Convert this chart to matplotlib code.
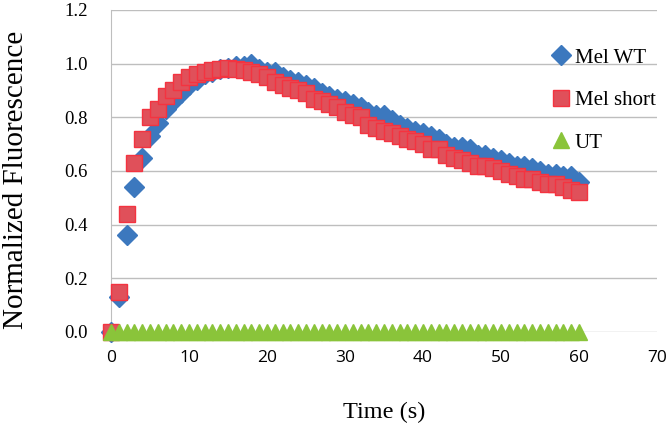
import numpy as np
import matplotlib.pyplot as plt

time_s = list(range(0, 61))

mel_wt = [0.00, 0.13, 0.36, 0.54, 0.65, 0.73, 0.78, 0.83, 0.86, 0.89,
          0.92, 0.94, 0.96, 0.97, 0.98, 0.985, 0.99, 0.99, 1.00, 0.98,
          0.97, 0.97, 0.95, 0.94, 0.93, 0.92, 0.91, 0.89, 0.88, 0.87,
          0.86, 0.85, 0.84, 0.82, 0.81, 0.81, 0.79, 0.77, 0.76, 0.75,
          0.74, 0.73, 0.72, 0.70, 0.69, 0.69, 0.68, 0.66, 0.66, 0.65,
          0.64, 0.63, 0.62, 0.62, 0.61, 0.60, 0.59, 0.59, 0.58, 0.58,
          0.56]

mel_short = [0.00, 0.15, 0.44, 0.63, 0.72, 0.80, 0.83, 0.88, 0.90, 0.93,
             0.95, 0.96, 0.97, 0.975, 0.98, 0.985, 0.98, 0.975, 0.97, 0.96,
             0.95, 0.93, 0.92, 0.91, 0.90, 0.89, 0.87, 0.86, 0.85, 0.84,
             0.82, 0.81, 0.80, 0.77, 0.76, 0.75, 0.74, 0.73, 0.72, 0.71,
             0.70, 0.68, 0.68, 0.66, 0.65, 0.64, 0.63, 0.62, 0.62, 0.61,
             0.60, 0.59, 0.58, 0.57, 0.57, 0.56, 0.55, 0.55, 0.54, 0.53,
             0.52]

ut = [0.0] * 61

xticks = [0, 10, 20, 30, 40, 50, 60, 70]
yticks = [0.0, 0.2, 0.4, 0.6, 0.8, 1.0, 1.2]

fig = plt.figure(figsize=(6.66, 4.32), dpi=100)
ax = fig.add_axes([0.1667, 0.2315, 0.8198, 0.7455])

ax.plot(time_s, mel_wt, linestyle="none", marker="D", markersize=10.5,
        color="#3C78BE", markeredgecolor="#3C78BE", label="Mel WT", clip_on=False, zorder=3)
ax.plot(time_s, mel_short, linestyle="none", marker="s", markersize=12,
        color="#E0505A", markeredgecolor="#F43340", markeredgewidth=1, label="Mel short",
        clip_on=False, zorder=4)
ax.plot(time_s, ut, linestyle="none", marker="^", markersize=11,
        color="#8AC43A", markeredgecolor="#8AC43A", label="UT", clip_on=False, zorder=5)

ax.set_xlim(0, 70)
ax.set_ylim(0, 1.2)
ax.set_xticks(xticks)
ax.set_yticks(yticks)
ax.set_yticklabels([f"{v:.1f}" for v in yticks], family="Liberation Serif", fontsize=13.5)
ax.set_xticklabels([str(v) for v in xticks], family="Open Sans", fontsize=12.5)
ax.tick_params(axis="both", length=0)
ax.tick_params(axis="y", pad=17)
ax.tick_params(axis="x", pad=13)

ax.grid(axis="y", color="#BEBEBE", linewidth=1)
ax.set_axisbelow(True)
for side in ["top", "right", "bottom"]:
    ax.spines[side].set_visible(False)
ax.spines["left"].set_color("#BEBEBE")

ax.set_ylabel("Normalized Fluorescence", family="Liberation Serif", fontsize=21)
ax.yaxis.set_label_coords(-0.150, 0.472)
ax.set_xlabel("Time (s)", family="Liberation Serif", fontsize=17.5, labelpad=26)

ax.legend(loc="upper left", bbox_to_anchor=(0.775, 0.94), frameon=False, numpoints=1,
          handlelength=0.8, handletextpad=0.25, labelspacing=1.1,
          prop={"family": "Liberation Serif", "size": 15})

fig.savefig("out.png", dpi=100)
